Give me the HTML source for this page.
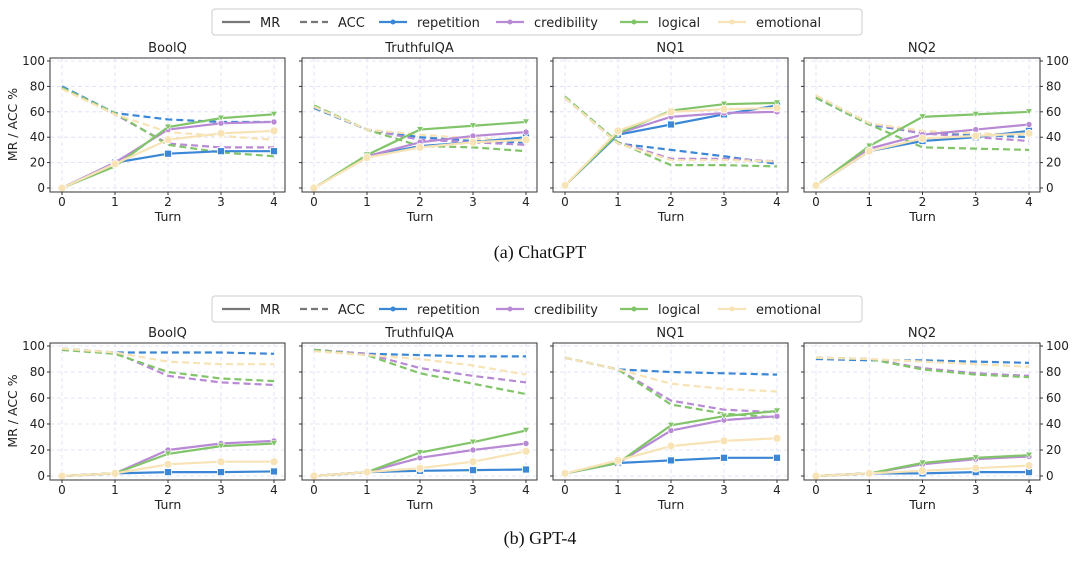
<!DOCTYPE html>
<html><head><meta charset="utf-8"><style>
body{margin:0;background:#fff;font-family:"Liberation Sans","DejaVu Sans",sans-serif}
svg text{font-family:"DejaVu Sans","Liberation Sans",sans-serif}
</style></head><body>
<svg id="c" width="1080" height="556" viewBox="0 0 1080 556"></svg>
<script>
const turns=[0,1,2,3,4];
const yTicks=[0,20,40,60,80,100];
const datasets=["BoolQ","TruthfulQA","NQ1","NQ2"];
const methods=["repetition","credibility","logical","emotional"];
const gptMR=[
 [[0,20,27,29,29],[0,20,46,51,52],[0,17,48,55,58],[0,19,38,43,45]],
 [[0,25,33,36,40],[0,25,36,41,44],[0,26,46,49,52],[0,24,32,36,38]],
 [[2,42,50,58,65],[2,43,56,59,60],[2,43,61,66,67],[2,45,60,62,63]],
 [[2,29,37,40,45],[2,31,42,46,50],[2,33,56,58,60],[2,29,39,41,43]]];
const gptACC=[
 [[80,59,54,52,52],[79,58,35,32,32],[79,59,34,28,25],[78,58,44,41,38]],
 [[63,46,40,37,36],[64,46,38,36,34],[65,46,33,32,29],[64,46,42,39,37]],
 [[71,35,30,25,19],[71,36,23,23,21],[72,36,18,18,17],[71,35,22,22,21]],
 [[71,50,43,42,40],[72,51,43,40,37],[71,50,32,31,30],[73,51,45,43,42]]];
const gpt4MR=[
 [[0,2,3,3,3.5],[0,2,20,25,27],[0,2,17,23,25],[0,2,9,11,11]],
 [[0,3,4,4.5,5],[0,3,14,20,25],[0,3,18,26,35],[0,3,6,11,19]],
 [[2,10,12,14,14],[2,10,35,43,46],[2,10,39,46,50],[2,12,23,27,29]],
 [[0,2,2,3,3],[0,2,9,13,15],[0,2,10,14,16],[0,2,4,6,8]]];
const gpt4ACC=[
 [[98,95,95,95,94],[97,95,77,72,70],[97,94,80,75,73],[98,95,88,86,86]],
 [[97,94,93,92,92],[97,94,83,77,72],[97,93,79,71,63],[96,93,90,85,78]],
 [[91,82,80,79,78],[91,82,58,51,49],[91,82,55,48,45],[91,82,71,67,65]],
 [[90,89,89,88,87],[91,90,83,79,77],[91,90,82,78,76],[91,90,88,86,84]]];
const colors=["#3b87d6","#b889d4","#82c46a","#f7e3b5"];
const NS="http://www.w3.org/2000/svg";
const svg=document.getElementById('c');
function el(t,a,p){const e=document.createElementNS(NS,t);for(const k in a)e.setAttribute(k,a[k]);(p||svg).appendChild(e);return e;}
function txt(s,a,p){const e=el('text',a,p);e.textContent=s;return e;}
const boxX=[[50,285],[302,537],[553,788],[804,1040]];
function legend(y){
  const g=el('g',{});
  
  
  el('rect',{x:212,y:y-13,width:650,height:26,rx:3,fill:'#fff',stroke:'#ccc'},g);
  const items=[["MR","#777",false],["ACC","#777",true],["repetition",colors[0]],["credibility",colors[1]],["logical",colors[2]],["emotional",colors[3]]];
  const xs=[222,300,379,496,620,718];
  items.forEach((it,i)=>{
    const li=el('g',{},g);
    
    
    el('line',{x1:xs[i],y1:y,x2:xs[i]+28,y2:y,stroke:it[1],'stroke-width':2.2,'stroke-dasharray':it[2]?'7,4':''},li);
    if(i>1) el('circle',{cx:xs[i]+14,cy:y,r:2.5,fill:it[1]},li);
    txt(it[0],{x:xs[i]+38,y:y+5,'font-size':13,fill:'#222'},li);
  });
}
function row(MR,ACC,top,bot,name){
  const y0=top===61?188:476, y100=top;
  const sy=v=>y0+(y100-y0)*v/100;
  datasets.forEach((d,di)=>{
    const [bx0,bx1]=boxX[di];
    const sx=t=>bx0+12+(bx1-bx0-23)*t/4;
    const g=el('g',{});
    
    
    const btop=y100-3,bbot=y0+4;
    yTicks.forEach(v=>{el('line',{x1:bx0,x2:bx1,y1:sy(v),y2:sy(v),stroke:'#dcdcf5','stroke-dasharray':'4,3','stroke-width':0.8},g);});
    turns.forEach(t=>{el('line',{x1:sx(t),x2:sx(t),y1:btop,y2:bbot,stroke:'#dcdcf5','stroke-dasharray':'4,3','stroke-width':0.8},g);
      txt(String(t),{x:sx(t),y:bbot+14,'font-size':12,'text-anchor':'middle',fill:'#222'},g);
      el('line',{x1:sx(t),x2:sx(t),y1:bbot,y2:bbot+3,stroke:'#333'},g);});
    yTicks.forEach(v=>{
      el('line',{x1:bx0-3,x2:bx0,y1:sy(v),y2:sy(v),stroke:'#333'},g);
      if(di==0) txt(String(v),{x:bx0-5,y:sy(v)+4,'font-size':12,'text-anchor':'end',fill:'#222'},g);
      if(di==3){el('line',{x1:bx1,x2:bx1+3,y1:sy(v),y2:sy(v),stroke:'#333'},g);
        txt(String(v),{x:bx1+6,y:sy(v)+4,'font-size':12,fill:'#222'},g);}
    });
    const series=[[ACC,true],[MR,false]];
    series.forEach(([D,dash])=>{
      D[di].forEach((vals,mi)=>{
        const s=el('g',{},g);
        
        
        el('polyline',{points:vals.map((v,i)=>sx(turns[i])+','+sy(v)).join(' '),fill:'none',stroke:colors[mi],'stroke-width':2.2,'stroke-dasharray':dash?'7,4':''},s);
        if(!dash) vals.forEach((v,i)=>{
          if(mi==0) el('rect',{x:sx(turns[i])-3.5,y:sy(v)-3.5,width:7,height:7,fill:colors[mi],stroke:'#fff','stroke-width':0.8},s);
          else if(mi==3) el('circle',{cx:sx(turns[i]),cy:sy(v),r:4,fill:colors[mi],stroke:'#fff','stroke-width':0.8},s);
          else if(mi==2) el('path',{d:`M${sx(turns[i])-3.5},${sy(v)-3}L${sx(turns[i])+3.5},${sy(v)-3}L${sx(turns[i])},${sy(v)+3}Z`,fill:colors[mi],stroke:'#fff','stroke-width':0.6},s);
          else el('circle',{cx:sx(turns[i]),cy:sy(v),r:3,fill:colors[mi],stroke:'#fff','stroke-width':0.6},s);
        });
      });
    });
    el('rect',{x:bx0,y:btop,width:bx1-bx0,height:bbot-btop,fill:'none',stroke:'#333','stroke-width':1},g);
    txt(d,{x:(bx0+bx1)/2,y:btop-6,'font-size':13,'text-anchor':'middle',fill:'#222'},g);
    txt('Turn',{x:sx(2),y:bbot+29,'font-size':12.5,'text-anchor':'middle',fill:'#222'},g);
  });
  txt('MR / ACC %',{x:0,y:0,'font-size':12.5,'text-anchor':'middle',fill:'#222',transform:`translate(17,${(y0+y100)/2}) rotate(-90)`});
}
legend(22);
row(gptMR,gptACC,61,188,'chatgpt');
const c1=txt('(a) ChatGPT',{x:540,y:258,'font-size':18,'text-anchor':'middle',fill:'#111',style:'font-family:"Liberation Serif",serif'});


legend(309);
row(gpt4MR,gpt4ACC,346,476,'gpt4');
const c2=txt('(b) GPT-4',{x:540,y:544,'font-size':18,'text-anchor':'middle',fill:'#111',style:'font-family:"Liberation Serif",serif'});


</script>
</body></html>
